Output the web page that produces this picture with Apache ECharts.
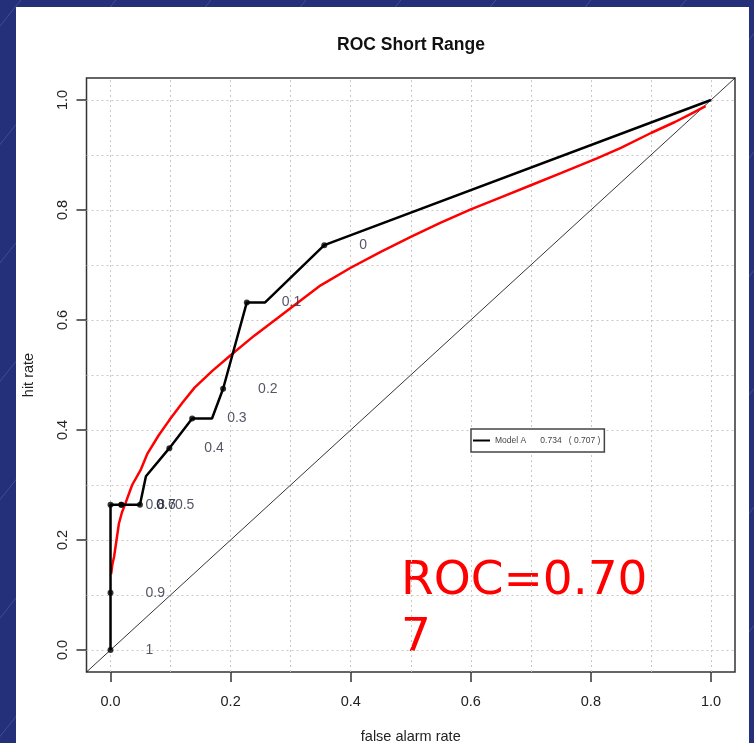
<!DOCTYPE html>
<html>
<head>
<meta charset="utf-8">
<title>ROC Short Range</title>
<script src="https://cdn.jsdelivr.net/npm/echarts@6/dist/echarts.min.js"></script>
<style>
  html, body { margin: 0; padding: 0; background: #24317a; }
  #chart { width: 754px; height: 743px; }
</style>
</head>
<body>
<div id="chart"></div>
<script>
// Probability thresholds and the (false alarm, hit) pair at each one
const thresholds = [1, 0.9, 0.8, 0.7, 0.6, 0.5, 0.4, 0.3, 0.2, 0.1, 0];
const threshFar  = [0, 0, 0, 0.018, 0.018, 0.049, 0.098, 0.136, 0.1875, 0.227, 0.356];
const threshHit  = [0, 0.104, 0.264, 0.264, 0.264, 0.264, 0.367, 0.421, 0.475, 0.632, 0.736];

// Empirical ROC path (including the step corners between thresholds)
const pathFar = [0, 0, 0, 0.018, 0.049, 0.059, 0.098, 0.136, 0.169, 0.1875, 0.227, 0.2575, 0.356, 1];
const pathHit = [0, 0.104, 0.264, 0.264, 0.264, 0.316, 0.367, 0.421, 0.421, 0.475, 0.632, 0.632, 0.736, 1];

// Fitted (binormal) ROC curve
const fitFar = [0.001, 0.003, 0.006, 0.01, 0.014, 0.019, 0.025, 0.036, 0.05, 0.061, 0.08, 0.098, 0.12, 0.14, 0.17, 0.2, 0.24,
                0.28, 0.31, 0.35, 0.4, 0.45, 0.5, 0.55, 0.6, 0.65, 0.7, 0.75, 0.81, 0.85, 0.9, 0.94, 0.965, 0.991];
const fitHit = [0.138, 0.155, 0.17, 0.2, 0.23, 0.25, 0.267, 0.30, 0.327, 0.356, 0.39, 0.418, 0.45, 0.477, 0.508, 0.536, 0.572,
                0.605, 0.63, 0.663, 0.695, 0.724, 0.751, 0.777, 0.801, 0.823, 0.845, 0.867, 0.894, 0.913, 0.94, 0.96, 0.974, 0.989];

// No-skill diagonal, spanning the whole plot region
const diagonal = [-0.04, 1.04];

// Axis ticks and the dotted reference grid
const tickValues = [0, 0.2, 0.4, 0.6, 0.8, 1.0];
const gridValues = [0, 0.1, 0.2, 0.3, 0.4, 0.5, 0.6, 0.7, 0.8, 0.9, 1.0];

// Areas under the curve: empirical and fitted
const modelName = 'Model A';
const aucEmpirical = 0.734;
const aucFitted = 0.707;

const FONT = '"Liberation Sans", Arial, sans-serif';
const chart = echarts.init(document.getElementById('chart'), null, { renderer: 'canvas' });

// Faint diagonal streaks on the slide background
const streaks = [];
for (let k = -6; k < 14; k++) {
  streaks.push({
    type: 'line', z: -20, silent: true,
    shape: { x1: k * 95 - 320, y1: 780, x2: k * 95 + 330, y2: -30 },
    style: { stroke: 'rgba(130,150,220,0.28)', lineWidth: 1 }
  });
}

const axisCommon = {
  type: 'value', min: -0.04, max: 1.04,
  axisLine: { show: false, onZero: false },
  splitLine: { show: false },
  axisTick: { show: true, customValues: tickValues, length: 10, lineStyle: { color: '#333', width: 1.5 } },
  nameLocation: 'middle',
  nameTextStyle: { fontFamily: FONT, fontSize: 14.5, color: '#222' }
};

const option = {
  backgroundColor: '#24317a',
  animation: false,
  title: {
    text: 'ROC Short Range',
    left: 411, top: 36, textAlign: 'center', padding: 0,
    textStyle: { fontFamily: FONT, fontSize: 17.5, fontWeight: 'bold', color: '#111' }
  },
  legend: {
    left: 471, top: 429,
    padding: [7, 4, 7, 2],
    backgroundColor: '#fff', borderColor: '#444', borderWidth: 1.5, borderRadius: 0,
    icon: 'rect', itemWidth: 17, itemHeight: 2,
    data: [modelName],
    formatter: name => `${name}      ${aucEmpirical.toFixed(3)}   ( ${aucFitted.toFixed(3)} )`,
    textStyle: { fontFamily: FONT, fontSize: 8.5, color: '#444' }
  },
  grid: {
    left: 86.5, right: 19, top: 78, bottom: 71,
    outerBoundsMode: 'none', containLabel: false,
    show: true, borderColor: '#333', borderWidth: 1.5, backgroundColor: 'transparent'
  },
  xAxis: Object.assign({}, axisCommon, {
    name: 'false alarm rate', nameGap: 57,
    axisLabel: { customValues: tickValues, formatter: v => v.toFixed(1), margin: 22,
                 fontFamily: FONT, fontSize: 14.5, color: '#222' }
  }),
  yAxis: Object.assign({}, axisCommon, {
    name: 'hit rate', nameGap: 50,
    axisLabel: { customValues: tickValues, formatter: v => v.toFixed(1), margin: 16, rotate: 90,
                 fontFamily: FONT, fontSize: 14.5, color: '#222' }
  }),
  graphic: [
    // white chart panel on the slide
    { type: 'rect', z: -10, silent: true, shape: { x: 16, y: 7, width: 733, height: 740 }, style: { fill: '#fff' } },
    ...streaks,
    // AUC call-out
    {
      type: 'group', z: 10, silent: true,
      children: [
        { type: 'rect', shape: { x: 378, y: 537, width: 304, height: 133 }, style: { fill: '#fff' } },
        { type: 'text', x: 401, y: 553,
          style: { text: 'ROC=' + aucFitted.toFixed(3), width: 262, overflow: 'breakAll',
                   font: '47px "DejaVu Sans", sans-serif', lineHeight: 57, fill: '#ff0000' } }
      ]
    }
  ],
  series: [
    {
      // dotted reference grid
      name: 'grid', type: 'line', data: [], z: 1, silent: true,
      markLine: {
        z: 1, silent: true, symbol: ['none', 'none'], animation: false,
        label: { show: false },
        lineStyle: { color: '#c8c8c8', type: [2, 3], width: 1 },
        data: gridValues.map(v => ({ xAxis: v })).concat(gridValues.map(v => ({ yAxis: v })))
      }
    },
    {
      name: 'no skill', type: 'line', z: 2, silent: true, symbol: 'none',
      data: diagonal.map(v => [v, v]),
      lineStyle: { color: '#000', width: 0.8 }
    },
    {
      name: 'fitted', type: 'line', z: 3, silent: true, symbol: 'none',
      data: fitFar.map((x, i) => [x, fitHit[i]]),
      lineStyle: { color: '#ff0000', width: 2.5 }
    },
    {
      name: modelName, type: 'line', z: 4, silent: true, symbol: 'none',
      data: pathFar.map((x, i) => [x, pathHit[i]]),
      itemStyle: { color: '#000' },
      lineStyle: { color: '#000', width: 2.5 }
    },
    {
      name: 'thresholds', type: 'scatter', z: 5, silent: true,
      symbol: 'circle', symbolSize: 6,
      itemStyle: { color: '#000' },
      data: threshFar.map((x, i) => [x, threshHit[i], thresholds[i]]),
      label: {
        show: true, position: 'right', distance: 32,
        formatter: p => String(p.value[2]),
        fontFamily: FONT, fontSize: 14, color: '#2a2a40'
      }
    }
  ]
};

chart.setOption(option);
</script>
</body>
</html>
